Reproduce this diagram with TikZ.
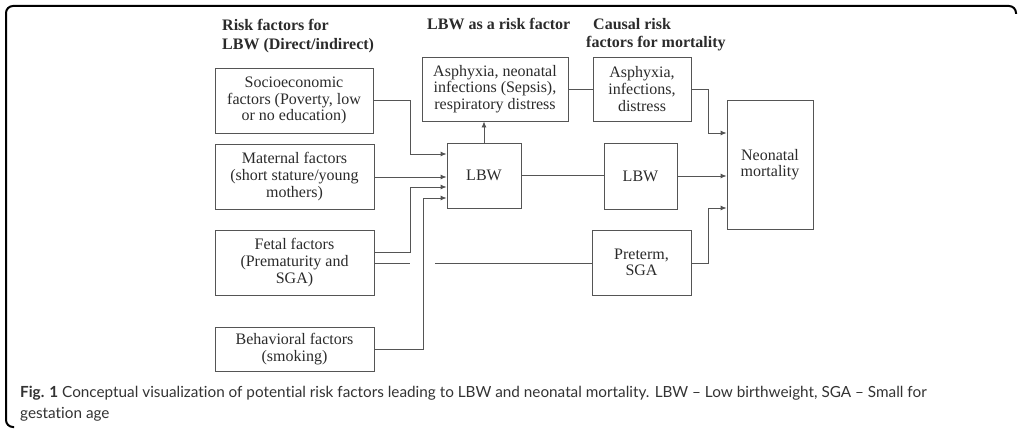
\documentclass[tikz,border=0pt]{standalone}
\usepackage{fontspec}
\setmainfont{Liberation Serif}
\newfontfamily\capfont[Ligatures=NoCommon]{Lato}
\usetikzlibrary{arrows.meta,calc}
\definecolor{linegray}{HTML}{555555}
\definecolor{txtgray}{HTML}{2B2B2B}
\definecolor{capgray}{HTML}{333333}
\begin{document}
\begin{tikzpicture}[x=1pt,y=-1pt,
  box/.style={draw=linegray,line width=0.9pt,inner sep=0pt,align=center,text=txtgray,
     font=\fontsize{16}{16.6}\selectfont},
  head/.style={inner sep=0pt,anchor=base west,align=left,text=txtgray,
     font=\fontsize{16}{19}\selectfont\bfseries},
  conn/.style={draw=linegray,line width=0.9pt},
  arr/.style={conn,-{Latex[length=6pt,width=5pt]}}]
\clip (0,0) rectangle (1019,428);
\fill[white] (0,0) rectangle (1019,428);
% frame
\draw[line width=2pt,rounded corners=7pt] (1016,14) -- (1016,6) -- (6,6) -- (6,427) -- (14,427);
% headings
\node[head] (h1) at (222,49) {Risk factors for\\LBW (Direct/indirect)};
\node[head] (h2) at (427,30) {LBW as a risk factor};
\node[head] (h3a) at (593,30) {Causal risk};
\node[head] (h3b) at (586,48) {factors for mortality};
% boxes
\node[box,minimum width=158pt,minimum height=65pt] (soc) at (294,100.5) {Socioeconomic\\factors (Poverty, low\\or no education)};
\node[box,minimum width=159pt,minimum height=65pt] (mat) at (294.5,176.5) {Maternal factors\\(short stature/young\\mothers)};
\node[box,minimum width=159pt,minimum height=65pt] (fet) at (294.5,262.5) {Fetal factors\\(Prematurity and\\SGA)};
\node[box,minimum width=159pt,minimum height=44pt] (beh) at (294.5,349) {Behavioral factors\\(smoking)};
\node[box,minimum width=74pt,minimum height=65pt] (lbw1) at (484,175.5) {LBW};
\node[box,minimum width=146pt,minimum height=64pt] (asp) at (495,89) {Asphyxia, neonatal\\infections (Sepsis),\\respiratory distress};
\node[box,minimum width=98pt,minimum height=64pt] (cau) at (642,89) {Asphyxia,\\infections,\\distress};
\node[box,minimum width=73pt,minimum height=66pt] (lbw2) at (640.5,176) {LBW};
\node[box,minimum width=99pt,minimum height=65pt] (pre) at (641.5,262.5) {Preterm,\\SGA};
\node[box,minimum width=86pt,minimum height=129pt] (neo) at (770,164.5) {Neonatal\\mortality};
% connectors
\draw[arr] (soc.east) -- (410,100.5) |- (lbw1.west |- 0,154);
\draw[arr] (mat.east |- 0,177) -- (lbw1.west |- 0,177);
\draw[arr] (fet.east |- 0,252) -| (410,187) -- (lbw1.west |- 0,187);
\draw[conn] (fet.east |- 0,263) -- (410,263);
\draw[conn] (435,263) -- (pre.west |- 0,263);
\draw[arr] (beh.east) -| (423,198) -- (lbw1.west |- 0,198);
\draw[arr] (lbw1.north) -- (lbw1.north |- asp.south);
\draw[conn] (asp.east) -- (cau.west);
\draw[arr] (cau.east) -| (708,133) -- (neo.west |- 0,133);
\draw[conn] (lbw1.east) -- (lbw1.east -| lbw2.west);
\draw[arr] (lbw2.east) -- (lbw2.east -| neo.west);
\draw[arr] (pre.east |- 0,263) -| (708,208) -- (neo.west |- 0,208);
% caption
\node[inner sep=0pt,anchor=base west,align=left,text=capgray,font=\capfont\fontsize{15.3}{21}\selectfont] (cap) at (20,418)
 {{\bfseries Fig. 1} Conceptual visualization of potential risk factors leading to LBW and neonatal mortality. LBW – Low birthweight, SGA – Small for\\gestation age};
\end{tikzpicture}
\end{document}
